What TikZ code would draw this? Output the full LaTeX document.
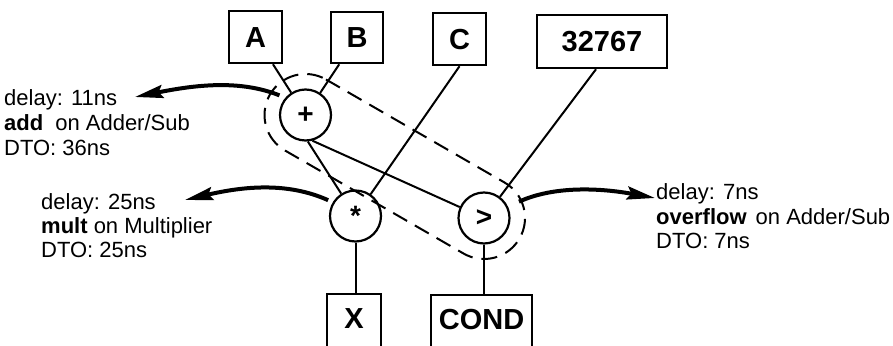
\documentclass[tikz,border=0pt]{standalone}
\usepackage{fontspec}
\setmainfont{Liberation Sans}
\usetikzlibrary{arrows.meta,calc}
\begin{document}
\begin{tikzpicture}[x=1pt,y=1pt,
  valbox/.style={draw, line width=2.5pt, inner sep=0pt,
    font=\fontsize{29}{29}\selectfont\bfseries, text height=20.8pt, text depth=0pt},
  opnode/.style={draw, circle, line width=2.2pt, minimum size=51pt, inner sep=0pt,
    font=\fontsize{28}{28}\selectfont\bfseries},
  wire/.style={line width=2pt},
  group/.style={line width=2pt, dash pattern=on 16pt off 9pt},
  timing/.style={line width=4pt, -{Stealth[length=28pt,width=13pt,inset=4pt]}},
  note/.style={anchor=base west, inner sep=0pt, font=\fontsize{22}{25}\selectfont}
]
\useasboundingbox (0,0) rectangle (893,345);

% operand boxes
\node[valbox, minimum width=53pt, minimum height=52pt] (A) at (255.5,308) {A};
\node[valbox, minimum width=52pt, minimum height=51pt] (B) at (357,307.5) {B};
\node[valbox, minimum width=53pt, minimum height=52pt] (C) at (459.5,306) {C};
\node[valbox, minimum width=130pt, minimum height=53pt] (big) at (602,303.5) {32767};

% result boxes (bottom edge runs past the page)
\node[valbox, minimum width=54pt, text height=34.4pt, text depth=21.6pt, anchor=north] (X) at (354,52) {X};
\node[valbox, minimum width=101pt, text height=34.4pt, text depth=21.6pt, anchor=north] (cond) at (481.5,51) {COND};

% operations
\node[opnode] (plus) at (305.5,230) {+};
\node[opnode] (star) at (355.5,129) {*};
\node[opnode] (gt) at (484,127) {>};

% chained group around + and >
\draw[group] let \p1=($(gt)-(plus)$), \n1={atan2(\y1,\x1)} in
  ($(plus)+(\n1+90:41)$) -- ($(gt)+(\n1+90:41)$)
  arc[start angle=\n1+90, delta angle=-180, radius=41]
  -- ($(plus)+(\n1-90:41)$)
  arc[start angle=\n1-90, delta angle=-180, radius=41] -- cycle;

% data edges
\draw[wire] (A) -- (plus);
\draw[wire] (B) -- (plus);
\draw[wire] (C.south) -- (star);
\draw[wire] ([xshift=-6pt]big.south) -- (gt);
\draw[wire] (plus.-85) -- (star);
\draw[wire] (plus.-75) -- (gt);
\draw[wire] (star.south) -- (star.south |- X.north);
\draw[wire] (gt.south) -- (gt.south |- cond.north);

% timing annotations
\coordinate (d1) at (135,248);
\coordinate (d2) at (185,145);
\coordinate (d3) at (655,147);
\draw[timing] ([shift={(143:6)}]plus.143) .. controls +(-40,16) and +(60,12) .. (d1);
\draw[timing] ([shift={(150:5)}]star.150) .. controls +(-40,18) and +(60,14) .. (d2);
\draw[timing] ([shift={(25:12)}]gt.25) .. controls +(35,16) and +(-55,10) .. (d3);

\node[note] (n1a) at (4,239) {delay: 11ns};
\node[note] (n1b) at (4,214) {\textbf{add}\hspace{12pt}on Adder/Sub};
\node[note] (n1c) at (4,189) {DTO: 36ns};

\node[note] (n2a) at (41,135) {delay: 25ns};
\node[note] (n2b) at (41,111) {\textbf{mult} on Multiplier};
\node[note] (n2c) at (41,87) {DTO: 25ns};

\node[note] (n3a) at (656,145) {delay: 7ns};
\node[note] (n3b) at (656,120) {\textbf{overflow}\hspace{9pt}on Adder/Sub};
\node[note] (n3c) at (656,96) {DTO: 7ns};
\end{tikzpicture}
\end{document}
